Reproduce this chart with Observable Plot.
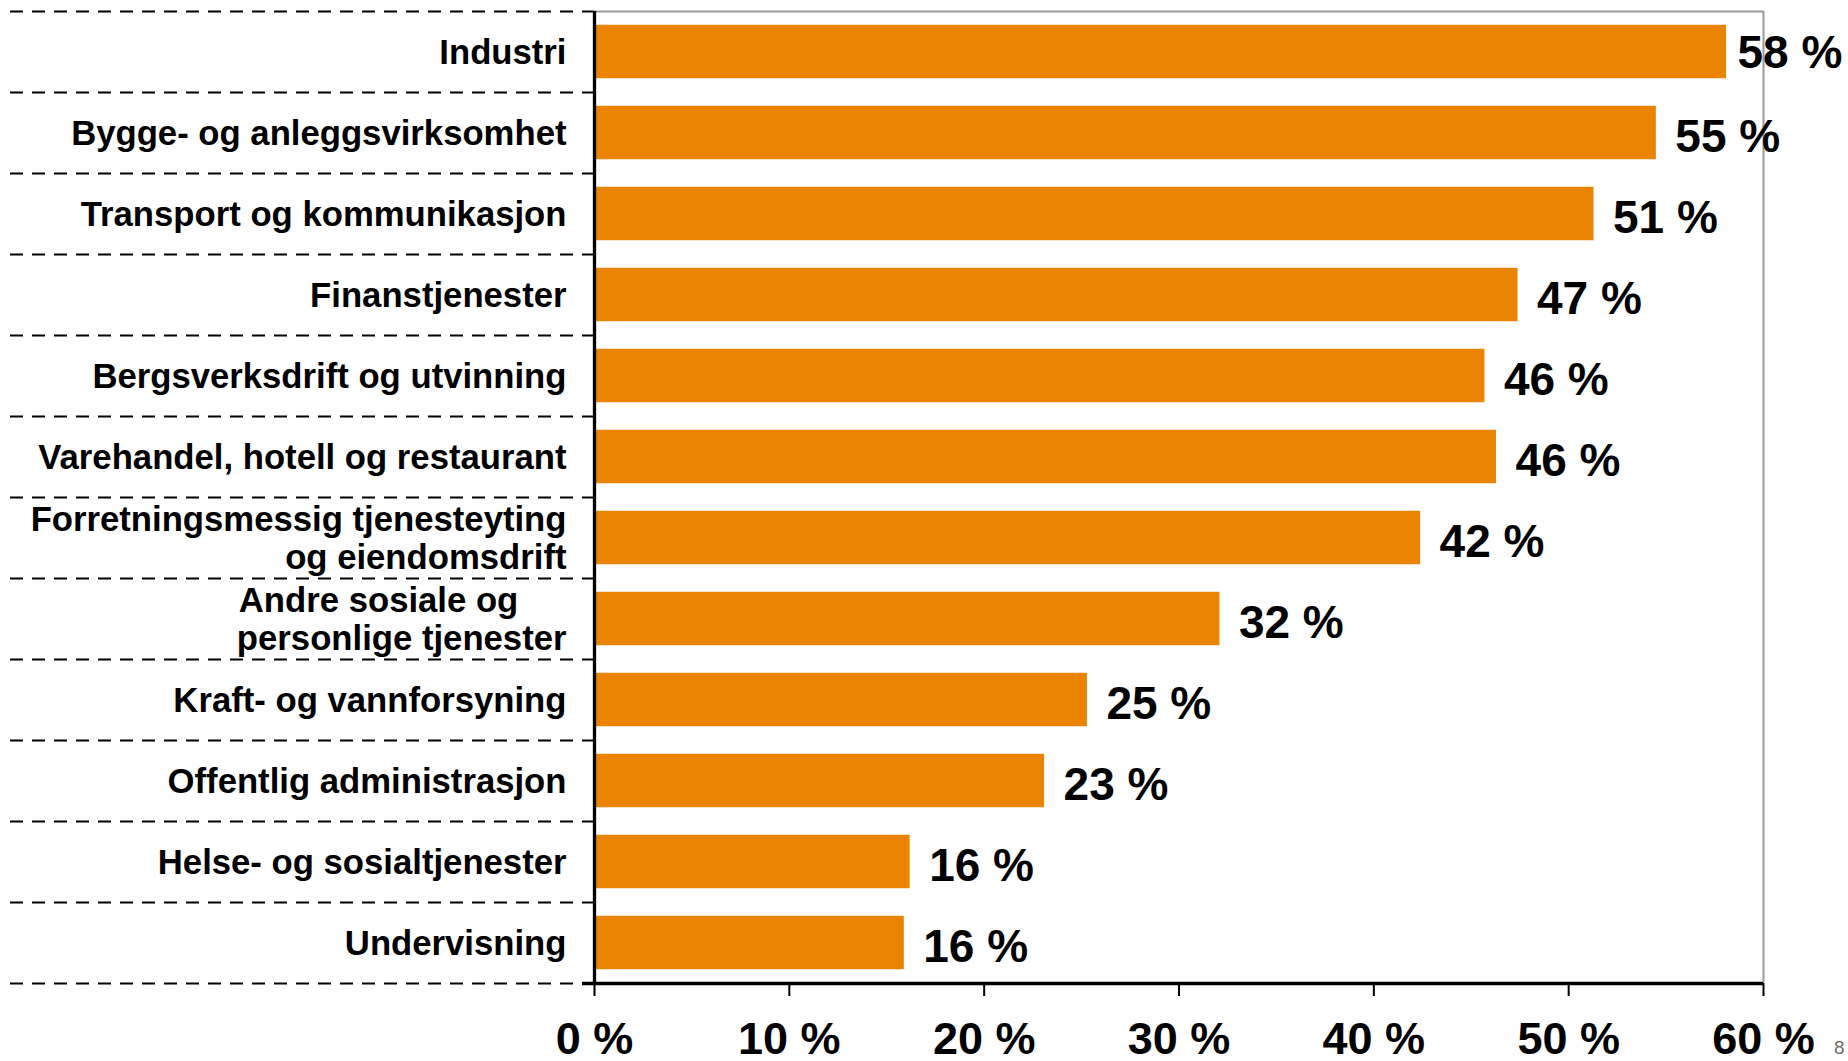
<!DOCTYPE html>
<html>
<head>
<meta charset="utf-8">
<script src="https://cdn.jsdelivr.net/npm/d3@7"></script>
<script src="https://cdn.jsdelivr.net/npm/@observablehq/plot@0.6"></script>
<style>
  html, body { margin: 0; padding: 0; background: #fff; }
  #wrap { position: relative; width: 1848px; height: 1061px; overflow: hidden; }
  #page { position: absolute; left: 1834px; top: 1037px; font: 19px "Liberation Sans", Arial, sans-serif; color: #6f6a66; }
</style>
</head>
<body>
<div id="wrap"><div id="chart"></div><span id="page">8</span></div>
<script>
const categories = [
  "Industri",
  "Bygge- og anleggsvirksomhet",
  "Transport og kommunikasjon",
  "Finanstjenester",
  "Bergsverksdrift og utvinning",
  "Varehandel, hotell og restaurant",
  "Forretningsmessig tjenesteyting\nog eiendomsdrift",
  "Andre sosiale og\u00a0\u00a0\u00a0\u00a0\u00a0\npersonlige tjenester",
  "Kraft- og vannforsyning",
  "Offentlig administrasjon",
  "Helse- og sosialtjenester",
  "Undervisning"
];
const values = [58.1, 54.5, 51.3, 47.4, 45.7, 46.3, 42.4, 32.1, 25.3, 23.1, 16.2, 15.9];
const xTicks = [0, 10, 20, 30, 40, 50, 60];

const data = categories.map((c, i) => ({cat: c, i, value: values[i]}));
const boundaries = d3.range(categories.length + 1);

const W = 1848, H = 1061, mL = 594, mR = 85, mT = 11, mB = 78;
const plotW = W - mL - mR;
const pad = 0.17;
const font = "'Liberation Sans', Arial, Helvetica, sans-serif";
const labelText = d => `${Math.round(d.value)} %`;

const chart = Plot.plot({
  width: W,
  height: H,
  marginLeft: mL,
  marginRight: mR,
  marginTop: mT,
  marginBottom: mB,
  style: {fontFamily: font, color: "#000", background: "#fff", overflow: "visible"},
  x: {domain: [0, 60], axis: null},
  y: {domain: [categories.length, 0], axis: null},
  marks: [
    // dashed category separators to the left of the axis
    Plot.ruleY(boundaries, {y: d => d, stroke: "#000", strokeWidth: 2, strokeDasharray: "13,9",
      insetLeft: -(mL - 10), insetRight: plotW + 21}),
    // small solid ticks at the axis
    Plot.ruleY(boundaries, {y: d => d, stroke: "#000", strokeWidth: 2,
      insetLeft: -12, insetRight: plotW}),
    // gray top and right frame
    Plot.ruleY([0], {stroke: "#999", strokeWidth: 2}),
    Plot.ruleX([60], {stroke: "#999", strokeWidth: 2}),
    // bars
    Plot.rectX(data, {x1: 0, x2: "value", y1: d => d.i + pad, y2: d => d.i + 1 - pad, fill: "#E98300"}),
    // axis lines
    Plot.ruleX([0], {stroke: "#000", strokeWidth: 3.3}),
    Plot.ruleY([categories.length], {stroke: "#000", strokeWidth: 3.3, insetLeft: -12}),
    // value labels (the top one sits closer to its bar to stay inside the page)
    Plot.text(data.filter(d => d.i > 0), {x: "value", y: d => d.i + 0.5, text: labelText,
      textAnchor: "start", dx: 19, dy: 4, fontSize: 46, fontWeight: "bold", fill: "#000"}),
    Plot.text(data.filter(d => d.i === 0), {x: "value", y: d => d.i + 0.5, text: labelText,
      textAnchor: "start", dx: 11, dy: 1, fontSize: 46, fontWeight: "bold", fill: "#000"}),
    // category labels
    Plot.text(data, {y: d => d.i + 0.5, text: "cat", frameAnchor: "left", textAnchor: "end",
      dx: -28, dy: 0, fontSize: 34.7, fontWeight: "bold", lineHeight: 1.1, fill: "#000"}),
    // x axis
    Plot.axisX(xTicks, {tickFormat: d => `${d} %`, tickSize: 13, tickPadding: 26, fontSize: 45,
      fontWeight: "bold", strokeWidth: 2, stroke: "#000", fill: "#000", label: null})
  ]
});
document.getElementById("chart").appendChild(chart);
</script>
</body>
</html>
